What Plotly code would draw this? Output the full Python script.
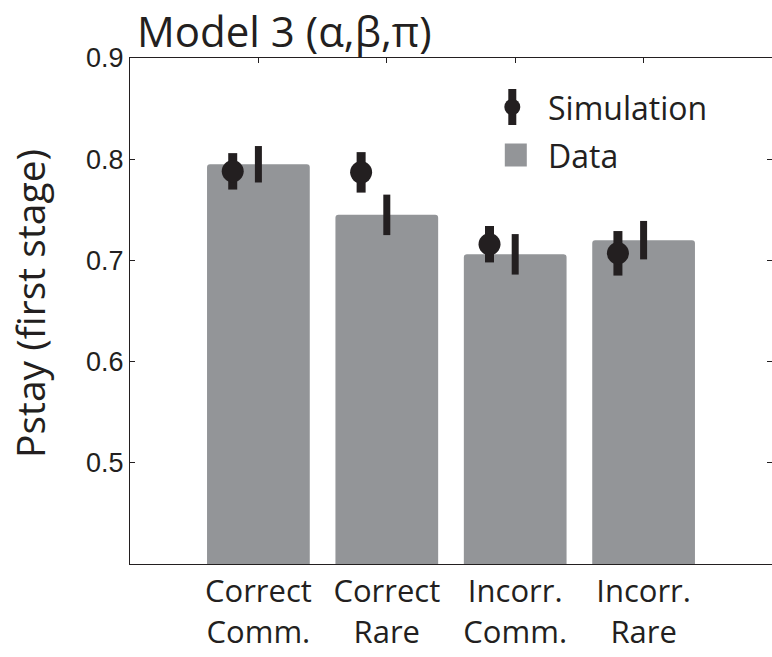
import plotly.graph_objects as go

# ---- data ----
categories = ["Correct<br>Comm.", "Correct<br>Rare", "Incorr.<br>Comm.", "Incorr.<br>Rare"]
positions = [1, 2, 3, 4]
data_mean = [0.795, 0.745, 0.706, 0.720]
data_sem = [0.018, 0.020, 0.020, 0.019]
sim_mean = [0.788, 0.787, 0.716, 0.707]
sim_sem = [0.018, 0.020, 0.018, 0.022]
sim_offset = -0.2
y_ticks = [0.5, 0.6, 0.7, 0.8, 0.9]
y_ticktext = ["0.5", "0.6", "0.7", "0.8", "0.9"]

GREY = "#939598"
BLACK = "#231f20"
W, H = 772, 657
ML, MR, MT, MB = 130, 0, 58, 93
PW, PH = W - ML - MR, H - MT - MB


def px_x(p):
    return (p - ML) / PW


def px_y(p):
    return (H - MB - p) / PH


fig = go.Figure()

fig.add_trace(go.Bar(
    x=positions, y=data_mean, base=0, width=0.8,
    marker=dict(color=GREY, line=dict(width=0), cornerradius=3),
    error_y=dict(type="data", array=data_sem, color=BLACK, thickness=7, width=0),
    showlegend=False, hoverinfo="skip",
))

fig.add_trace(go.Scatter(
    x=[p + sim_offset for p in positions], y=sim_mean, mode="markers",
    marker=dict(color=BLACK, size=22, line=dict(width=0)),
    error_y=dict(type="data", array=sim_sem, color=BLACK, thickness=9, width=0),
    showlegend=False, hoverinfo="skip",
))

# invisible trace to activate mirrored top/right axes
fig.add_trace(go.Scatter(
    x=positions, y=data_mean, xaxis="x2", yaxis="y2", mode="markers",
    marker=dict(opacity=0), showlegend=False, hoverinfo="skip",
))

fig.update_layout(
    width=W, height=H,
    margin=dict(l=ML, r=MR, t=MT, b=MB),
    plot_bgcolor="white", paper_bgcolor="white",
    barmode="overlay",
    xaxis=dict(
        range=[0, 5], tickvals=positions, ticktext=categories,
        ticks="", showline=True, linecolor=BLACK, linewidth=1,
        showgrid=False, zeroline=False, layer="below traces",
        tickfont=dict(family="Open Sans", size=31, color=BLACK),
    ),
    yaxis=dict(
        range=[0.4, 0.9], tickvals=y_ticks, ticktext=y_ticktext,
        ticks="inside", ticklen=5, tickcolor=BLACK,
        showline=True, linecolor=BLACK, linewidth=1,
        showgrid=False, zeroline=False,
        tickfont=dict(family="Liberation Sans", size=27, color=BLACK),
    ),
    xaxis2=dict(
        overlaying="x", side="top", range=[0, 5], tickvals=positions,
        ticks="inside", ticklen=5, tickcolor=BLACK,
        showline=True, linecolor=BLACK, linewidth=1,
        showticklabels=False, showgrid=False, zeroline=False,
    ),
    yaxis2=dict(
        overlaying="y", side="right", range=[0.4, 0.9], tickvals=y_ticks,
        ticks="inside", ticklen=5, tickcolor=BLACK,
        showline=False, showticklabels=False, showgrid=False, zeroline=False,
    ),
)

# title
fig.add_annotation(
    text="Model 3 (α,β,π)", xref="paper", yref="paper",
    x=px_x(135), y=1, xanchor="left", yanchor="bottom", showarrow=False, yshift=-3,
    font=dict(family="Open Sans", size=42, color=BLACK),
)

# y-axis title
fig.add_annotation(
    text="Pstay (first stage)", xref="paper", yref="paper",
    x=px_x(29), y=px_y(304), xanchor="center", yanchor="middle",
    textangle=-90, showarrow=False,
    font=dict(family="Open Sans", size=39, color=BLACK),
)

# legend (manual)
shapes = []
sx, sy = px_x(512.3), px_y(107)
shapes.append(dict(type="rect", xref="paper", yref="paper", xsizemode="pixel", ysizemode="pixel",
                   xanchor=sx, yanchor=sy, x0=-4, x1=4, y0=-18, y1=18,
                   fillcolor=BLACK, line=dict(width=0)))
shapes.append(dict(type="circle", xref="paper", yref="paper", xsizemode="pixel", ysizemode="pixel",
                   xanchor=sx, yanchor=sy, x0=-8, x1=8, y0=-8, y1=8,
                   fillcolor=BLACK, line=dict(width=0)))
dx, dy = px_x(515.8), px_y(155)
shapes.append(dict(type="rect", xref="paper", yref="paper", xsizemode="pixel", ysizemode="pixel",
                   xanchor=dx, yanchor=dy, x0=-11, x1=11, y0=-11.5, y1=11.5,
                   fillcolor=GREY, line=dict(width=0)))
fig.update_layout(shapes=shapes)

fig.add_annotation(
    text="Simulation", xref="paper", yref="paper", x=px_x(546), y=px_y(107.5),
    xanchor="left", yanchor="middle", showarrow=False,
    font=dict(family="Open Sans", size=32, color=BLACK),
)
fig.add_annotation(
    text="Data", xref="paper", yref="paper", x=px_x(546), y=px_y(155.5),
    xanchor="left", yanchor="middle", showarrow=False,
    font=dict(family="Open Sans", size=32, color=BLACK),
)

fig.write_html(
    "out.html",
    config={"displayModeBar": False},
    post_script="document.body.style.margin='0';document.body.style.overflow='hidden';",
)
